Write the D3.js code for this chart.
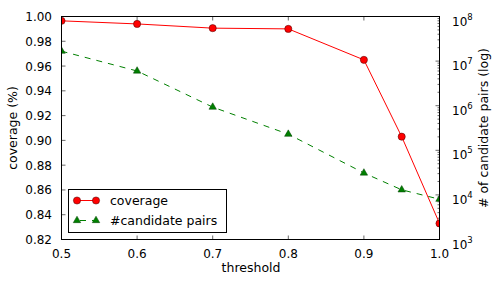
<!DOCTYPE html>
<html>
<head>
<meta charset="utf-8">
<script src="https://cdn.jsdelivr.net/npm/d3@7"></script>
<style>
  body { margin: 0; background: #fff; }
  svg { display: block; font-family: "DejaVu Sans", sans-serif; }
</style>
</head>
<body>
<svg id="chart" width="499" height="281"></svg>
<script>
// values
const thresholds = [0.5, 0.6, 0.7, 0.8, 0.9, 0.95, 1.0]
const coverage = [0.9965, 0.994, 0.9906, 0.990, 0.965, 0.903, 0.833]
const pairs = [1.67e7, 6.0e6, 9.3e5, 2.3e5, 3.1e4, 1.3e4, 8.0e3]
const xTicks = [0.5, 0.6, 0.7, 0.8, 0.9, 1.0]
const yTicks = [0.82, 0.84, 0.86, 0.88, 0.90, 0.92, 0.94, 0.96, 0.98, 1.00]
const logTicks = [1e3, 1e4, 1e5, 1e6, 1e7, 1e8]

const svg = d3.select('#chart')
const plot = {left: 61.5, right: 439.5, top: 16.5, bottom: 239.5}

const x = d3.scaleLinear().domain([0.5, 1.0]).range([plot.left, plot.right])
const y = d3.scaleLinear().domain([0.82, 1.0]).range([plot.bottom, plot.top])
const y2 = d3.scaleLog().domain([1e3, 1e8]).range([plot.bottom, plot.top])

svg.append('defs').append('clipPath').attr('id', 'clip')
    .append('rect')
    .attr('x', plot.left).attr('y', plot.top)
    .attr('width', plot.right - plot.left).attr('height', plot.bottom - plot.top)

// ticks (inward, matplotlib classic look)
const tk = svg.append('g').attr('stroke', '#000').attr('stroke-width', 0.6)
xTicks.forEach(t => {
    tk.append('line').attr('x1', x(t)).attr('x2', x(t)).attr('y1', plot.bottom).attr('y2', plot.bottom - 4)
    tk.append('line').attr('x1', x(t)).attr('x2', x(t)).attr('y1', plot.top).attr('y2', plot.top + 4)
})
yTicks.forEach(t => {
    tk.append('line').attr('x1', plot.left).attr('x2', plot.left + 4).attr('y1', y(t)).attr('y2', y(t))
})
logTicks.forEach(t => {
    tk.append('line').attr('x1', plot.right).attr('x2', plot.right - 4).attr('y1', y2(t)).attr('y2', y2(t))
})
// log minor ticks
for (let d = 3; d < 8; d++) {
    for (let m = 2; m <= 9; m++) {
        let v = m * Math.pow(10, d)
        tk.append('line').attr('x1', plot.right).attr('x2', plot.right - 2).attr('y1', y2(v)).attr('y2', y2(v))
    }
}

// tick labels
svg.append('g').selectAll('text').data(xTicks).enter().append('text')
    .attr('x', d => x(d)).attr('y', 257.5)
    .attr('text-anchor', 'middle').attr('font-size', 12)
    .text(d => d.toFixed(1))
svg.append('g').selectAll('text').data(yTicks).enter().append('text')
    .attr('x', 52).attr('y', d => y(d) + 4.5)
    .attr('text-anchor', 'end').attr('font-size', 12)
    .text(d => d.toFixed(2))
const lt = svg.append('g').selectAll('text').data(logTicks).enter().append('text')
    .attr('x', 452).attr('y', d => y2(d) + 9)
    .attr('font-size', 12)
lt.append('tspan').text('10')
lt.append('tspan').attr('dy', -6).attr('font-size', 8.5)
    .text(d => Math.round(Math.log10(d)))

// axis labels
svg.append('text').attr('x', 251).attr('y', 272)
    .attr('text-anchor', 'middle').attr('font-size', 12.5).text('threshold')
svg.append('text').attr('transform', 'translate(17,128) rotate(-90)')
    .attr('text-anchor', 'middle').attr('font-size', 12.5).text('coverage (%)')
svg.append('text').attr('transform', 'translate(488,128) rotate(-90)')
    .attr('text-anchor', 'middle').attr('font-size', 12.5).text('# of candidate pairs (log)')

// series
const g = svg.append('g').attr('clip-path', 'url(#clip)')
const covLine = d3.line().x((d, i) => x(thresholds[i])).y(d => y(d))
const pairLine = d3.line().x((d, i) => x(thresholds[i])).y(d => y2(d))
const tri = d3.symbol().type(d3.symbolTriangle).size(24)

g.append('path').datum(pairs).attr('d', pairLine)
    .attr('fill', 'none').attr('stroke', '#008000').attr('stroke-width', 1)
    .attr('stroke-dasharray', '6,6')
g.selectAll('.tri').data(pairs).enter().append('path')
    .attr('class', 'tri')
    .attr('transform', (d, i) => 'translate(' + x(thresholds[i]) + ',' + y2(d) + ')')
    .attr('d', tri).attr('fill', '#008000').attr('stroke', '#004000').attr('stroke-width', 0.5)

g.append('path').datum(coverage).attr('d', covLine)
    .attr('fill', 'none').attr('stroke', '#ff0000').attr('stroke-width', 1)
g.selectAll('circle').data(coverage).enter().append('circle')
    .attr('cx', (d, i) => x(thresholds[i])).attr('cy', d => y(d)).attr('r', 3.6)
    .attr('fill', '#ff0000').attr('stroke', '#400000').attr('stroke-width', 0.5)

// frame
svg.append('rect')
    .attr('x', plot.left).attr('y', plot.top)
    .attr('width', plot.right - plot.left).attr('height', plot.bottom - plot.top)
    .attr('fill', 'none').attr('stroke', '#000').attr('stroke-width', 1)

// legend
const lg = svg.append('g')
lg.append('rect').attr('x', 68.5).attr('y', 189.5).attr('width', 158).attr('height', 43)
    .attr('fill', '#fff').attr('stroke', '#000').attr('stroke-width', 1)
lg.append('line').attr('x1', 77).attr('x2', 96).attr('y1', 200.5).attr('y2', 200.5)
    .attr('stroke', '#ff0000').attr('stroke-width', 1)
;[77, 96].forEach(px => {
    lg.append('circle').attr('cx', px).attr('cy', 200.5).attr('r', 3.6)
        .attr('fill', '#ff0000').attr('stroke', '#400000').attr('stroke-width', 0.5)
    lg.append('path').attr('transform', 'translate(' + px + ',220.5)').attr('d', tri)
        .attr('fill', '#008000').attr('stroke', '#004000').attr('stroke-width', 0.5)
})
lg.append('line').attr('x1', 77).attr('x2', 96).attr('y1', 220.5).attr('y2', 220.5)
    .attr('stroke', '#008000').attr('stroke-width', 1).attr('stroke-dasharray', '6,6')
    .attr('stroke-dashoffset', -3)
lg.append('text').attr('x', 110).attr('y', 205).attr('font-size', 12.5).text('coverage')
lg.append('text').attr('x', 110).attr('y', 225).attr('font-size', 12.5).text('#candidate pairs')
</script>
</body>
</html>
